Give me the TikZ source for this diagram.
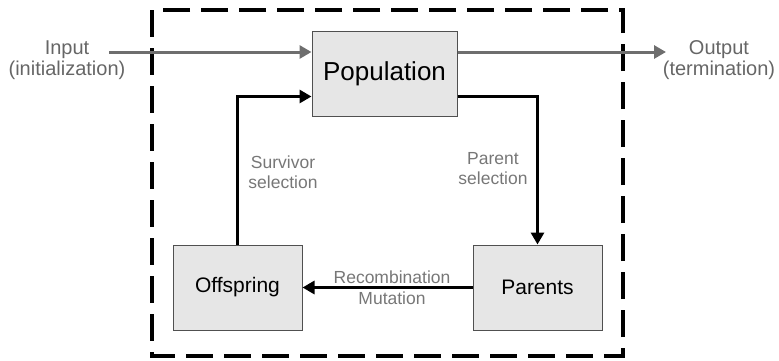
\documentclass[tikz,border=0pt]{standalone}
\usepackage{fontspec}
\setmainfont{Liberation Sans}
\usetikzlibrary{arrows.meta}
\definecolor{boxfill}{HTML}{E6E6E6}
\definecolor{boxline}{HTML}{505050}
\definecolor{ioline}{HTML}{6E6E6E}
\definecolor{iotext}{HTML}{666666}
\definecolor{lbltext}{HTML}{777777}
\begin{document}
\begin{tikzpicture}[x=1pt,y=-1pt,
  stage/.style={draw=boxline,line width=1pt,fill=boxfill,inner sep=0pt,
    minimum width=129pt,minimum height=85pt,
    font=\fontsize{21}{24}\selectfont},
  flow/.style={line width=3pt,-{Triangle[length=12pt,width=13pt]}},
  ioflow/.style={flow,draw=ioline},
  iolabel/.style={text=iotext,align=center,inner sep=0pt,
    font=\fontsize{20}{21.5}\selectfont},
  steplabel/.style={text=lbltext,align=center,inner sep=0pt,
    font=\fontsize{17.5}{20.5}\selectfont}]
\useasboundingbox (0,0) rectangle (779,360);

% algorithm boundary
\draw[line width=4pt,dash pattern=on 27pt off 11pt] (152,10) rectangle (623,356);

% stages of the cycle
\node[stage,minimum width=145pt,font=\fontsize{26}{30}\selectfont] (pop) at (384.5,73.5) {Population};
\node[stage] (off) at (237.5,287.5) {Offspring};
\node[stage] (par) at (537.5,287.5) {Parents};

% entry and exit
\coordinate (inS) at (109,52);
\coordinate (outE) at (666,52);
\node[iolabel] (inL) at (67,60) {Input\\(initialization)};
\node[iolabel] (outL) at (719,60) {Output\\(termination)};
\draw[ioflow] (inS) -- (inS -| pop.west);
\draw[ioflow] (pop.east |- outE) -- (outE);

% cycle connectors
\draw[flow] ([yshift=20pt]pop.south east) -| (par.north);
\draw[flow] (par.west) -- (off.east);
\draw[flow] (off.north) |- ([yshift=20pt]pop.south west);

% connector labels
\node[steplabel] (svL) at (283,172) {Survivor\\selection};
\node[steplabel] (psL) at (493,168.5) {Parent\\selection};
\node[steplabel] (rmL) at (392,287.5) {Recombination\\Mutation};
\end{tikzpicture}
\end{document}
